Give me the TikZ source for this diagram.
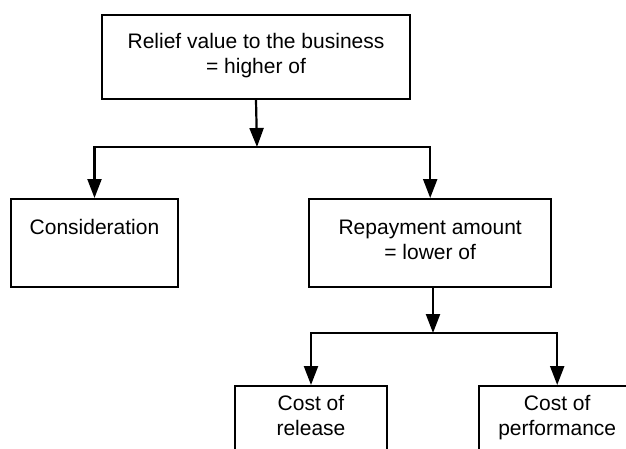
\documentclass[tikz,border=0pt]{standalone}
\usepackage{fontspec}
\setmainfont{Liberation Sans}
\usepackage{tikz}
\usetikzlibrary{arrows.meta,positioning}

\begin{document}
\begin{tikzpicture}[x=1pt, y=-1pt, font=\fontsize{21}{25}\selectfont]
    \tikzset{box/.style = {rectangle, draw, line width=2.2pt, align=center, inner sep=0pt, anchor=north}}
    \tikzset{link/.style = {line width=2.2pt, -{Triangle[length=19pt,width=14pt]}}}
    \useasboundingbox (0,0) rectangle (626,448);

    % Top
    \node [box, minimum width=308pt, minimum height=84pt] (relief) at (256,14) {Relief value to the business\\= higher of\strut};

    % Second level
    \node [box, minimum width=167pt, minimum height=88pt] (consid) at (94.5,198) {Consideration\\\strut};
    \node [box, minimum width=242pt, minimum height=88pt, right=129pt of consid] (repay) {Repayment amount\\= lower of\strut};

    % Third level
    \node [box, minimum width=152pt, minimum height=66pt] (release) at (311,385) {Cost of\\release\strut};
    \node [box, minimum width=156pt, minimum height=66pt, right=90pt of release] (perform) {Cost of\\performance\strut};

    % Links
    \coordinate (j1) at (257,147);
    \coordinate (j2) at (433,333);
    \draw [link] (relief.south) -- (j1);
    \draw [link] (j1) -| (consid.north);
    \draw [link] (j1) -| (repay.north);
    \draw [link] (repay.south -| j2) -- (j2);
    \draw [link] (j2) -| (release.north);
    \draw [link] (j2) -| (perform.north);
\end{tikzpicture}
\end{document}
